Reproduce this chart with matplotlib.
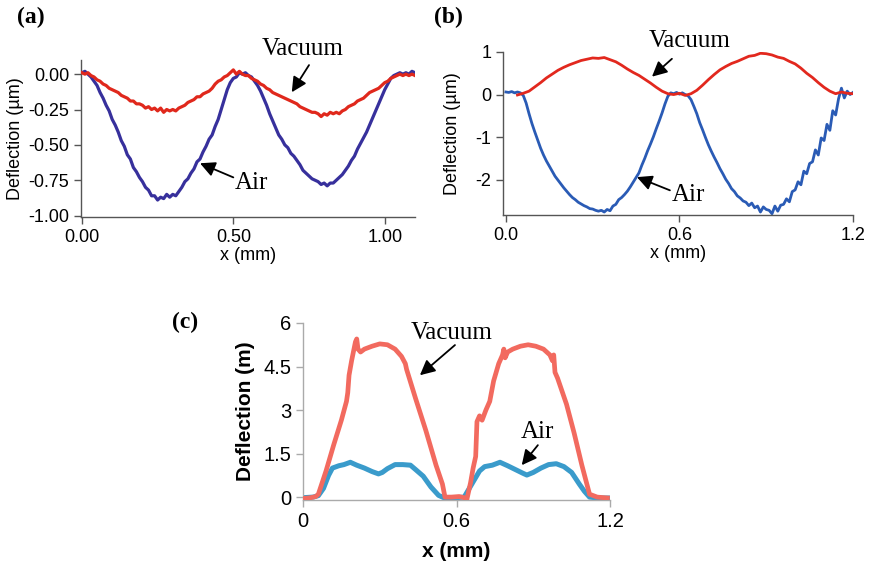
import numpy as np
import matplotlib
matplotlib.use("Agg")
import matplotlib.pyplot as plt

plt.rcParams['font.family'] = ['Liberation Sans', 'DejaVu Sans']
plt.rcParams['axes.unicode_minus'] = False

W, H = 872, 570

# ---- panel (a) data, 0.01 mm spacing ----
xa = np.linspace(0.0, 1.10, 111)
air_a = [0.01, 0.02, 0.00, -0.02, -0.05, -0.08, -0.13, -0.17, -0.22, -0.26,
         -0.32, -0.36, -0.41, -0.47, -0.51, -0.57, -0.60, -0.66, -0.69, -0.73,
         -0.76, -0.80, -0.82, -0.86, -0.86, -0.89, -0.87, -0.88, -0.85, -0.87,
         -0.85, -0.86, -0.83, -0.80, -0.76, -0.74, -0.70, -0.67, -0.62, -0.60,
         -0.55, -0.51, -0.46, -0.43, -0.37, -0.32, -0.25, -0.18, -0.11, -0.06,
         -0.03, -0.02, 0.01, 0.00, 0.01, -0.01, -0.02, -0.05, -0.08, -0.12,
         -0.17, -0.22, -0.28, -0.33, -0.38, -0.43, -0.46, -0.50, -0.52, -0.56,
         -0.58, -0.61, -0.64, -0.68, -0.70, -0.72, -0.74, -0.75, -0.76, -0.78,
         -0.77, -0.79, -0.77, -0.77, -0.75, -0.73, -0.71, -0.68, -0.65, -0.61,
         -0.58, -0.53, -0.49, -0.45, -0.41, -0.36, -0.31, -0.26, -0.21, -0.16,
         -0.11, -0.07, -0.03, -0.01, 0.00, 0.01, 0.00, 0.01, 0.00, 0.02, 0.01]
vac_a = [0.01, 0.00, 0.01, -0.01, -0.02, -0.04, -0.05, -0.07, -0.08, -0.10,
         -0.11, -0.12, -0.13, -0.15, -0.16, -0.17, -0.19, -0.19, -0.21, -0.21,
         -0.22, -0.24, -0.23, -0.25, -0.24, -0.26, -0.24, -0.27, -0.25, -0.26,
         -0.25, -0.26, -0.24, -0.23, -0.22, -0.20, -0.19, -0.18, -0.16, -0.16,
         -0.14, -0.13, -0.12, -0.10, -0.07, -0.05, -0.04, -0.02, -0.01, 0.01,
         0.03, 0.00, 0.02, 0.00, -0.01, -0.01, -0.03, -0.04, -0.05, -0.07,
         -0.08, -0.10, -0.11, -0.13, -0.14, -0.15, -0.16, -0.17, -0.18, -0.19,
         -0.20, -0.21, -0.23, -0.24, -0.25, -0.26, -0.27, -0.27, -0.28, -0.30,
         -0.28, -0.29, -0.27, -0.28, -0.27, -0.28, -0.26, -0.25, -0.23, -0.22,
         -0.21, -0.19, -0.18, -0.17, -0.15, -0.13, -0.12, -0.11, -0.10, -0.08,
         -0.06, -0.05, -0.03, -0.02, -0.01, 0.00, -0.01, 0.00, -0.01, 0.00, -0.01]

# ---- panel (b) data ----
xb_air = np.linspace(0.0, 1.20, 121)
air_b = [0.06, 0.05, 0.07, 0.04, 0.06, 0.04, -0.02, -0.20, -0.45, -0.68,
         -0.88, -1.07, -1.26, -1.42, -1.56, -1.68, -1.80, -1.92, -2.01, -2.10,
         -2.19, -2.27, -2.35, -2.42, -2.47, -2.53, -2.57, -2.61, -2.64, -2.68,
         -2.69, -2.72, -2.74, -2.72, -2.76, -2.70, -2.73, -2.62, -2.58, -2.47,
         -2.42, -2.35, -2.27, -2.17, -2.06, -1.95, -1.84, -1.66, -1.50, -1.32,
         -1.16, -0.99, -0.80, -0.62, -0.43, -0.22, -0.04, 0.04, 0.02, 0.05,
         0.01, 0.04, 0.00, -0.03, -0.12, -0.28, -0.45, -0.66, -0.83, -1.01,
         -1.18, -1.33, -1.47, -1.60, -1.74, -1.86, -1.99, -2.09, -2.21, -2.28,
         -2.38, -2.43, -2.50, -2.53, -2.61, -2.55, -2.66, -2.62, -2.76, -2.64,
         -2.70, -2.72, -2.80, -2.62, -2.74, -2.60, -2.58, -2.45, -2.52, -2.28,
         -2.24, -2.05, -2.12, -1.80, -1.86, -1.62, -1.58, -1.30, -1.42, -1.02,
         -1.08, -0.70, -0.84, -0.38, -0.48, -0.10, 0.15, -0.08, 0.08, 0.00, 0.05]
xb_vac = np.linspace(0.04, 1.20, 59)
vac_b = [-0.01, 0.03, 0.08, 0.18, 0.28, 0.39, 0.48, 0.57, 0.64, 0.70,
         0.75, 0.80, 0.83, 0.86, 0.85, 0.87, 0.82, 0.77, 0.69, 0.60,
         0.52, 0.45, 0.36, 0.27, 0.17, 0.08, 0.02, 0.00, 0.03, -0.02,
         0.02, 0.10, 0.22, 0.35, 0.47, 0.58, 0.66, 0.73, 0.78, 0.84,
         0.90, 0.92, 0.97, 0.96, 0.93, 0.88, 0.85, 0.78, 0.72, 0.62,
         0.50, 0.40, 0.28, 0.17, 0.08, 0.02, 0.06, 0.03, 0.02]

# ---- panel (c) data ----
xc_vac = [0.0, 0.03, 0.05, 0.06, 0.09, 0.12, 0.15, 0.17, 0.175, 0.18, 0.19, 0.205,
          0.21, 0.215, 0.225, 0.24, 0.27, 0.30, 0.33, 0.36, 0.385, 0.40, 0.405,
          0.44, 0.48, 0.52, 0.545, 0.555, 0.58, 0.61, 0.63, 0.64, 0.655, 0.665,
          0.675, 0.68, 0.69, 0.70, 0.715, 0.73, 0.745, 0.765, 0.78, 0.785, 0.79,
          0.80, 0.82, 0.85, 0.88, 0.91, 0.94, 0.965, 0.975, 0.98, 0.985, 0.995,
          1.03, 1.06, 1.09, 1.12, 1.15, 1.19]
vac_c = [-0.05, -0.02, 0.02, 0.10, 0.90, 1.80, 2.65, 3.30, 3.60, 4.20, 4.70, 5.35,
         5.45, 5.10, 5.00, 5.10, 5.20, 5.28, 5.25, 5.10, 4.85, 4.60, 4.40,
         3.40, 2.30, 1.10, 0.45, 0.00, 0.00, 0.02, -0.02, -0.10, 0.50, 1.00,
         1.40, 2.60, 2.80, 2.65, 3.00, 3.30, 4.00, 4.60, 4.90, 5.10, 4.80,
         5.00, 5.10, 5.20, 5.25, 5.20, 5.10, 4.90, 4.70, 4.90, 4.30, 4.10,
         3.20, 2.20, 1.10, 0.10, 0.00, -0.03]
xc_air = [0.0, 0.04, 0.06, 0.08, 0.10, 0.115, 0.14, 0.16, 0.185, 0.21, 0.24, 0.27,
          0.295, 0.31, 0.33, 0.36, 0.39, 0.42, 0.44, 0.47, 0.50, 0.53, 0.55, 0.60,
          0.63, 0.65, 0.67, 0.69, 0.71, 0.74, 0.77, 0.80, 0.83, 0.86, 0.875, 0.90,
          0.93, 0.96, 0.99, 1.02, 1.05, 1.08, 1.10, 1.12, 1.15, 1.19]
air_c = [-0.02, 0.00, 0.05, 0.30, 0.75, 1.00, 1.08, 1.12, 1.20, 1.10, 1.00, 0.88,
         0.80, 0.85, 0.98, 1.12, 1.12, 1.10, 0.95, 0.72, 0.35, 0.06, -0.02, -0.02,
         0.00, 0.30, 0.60, 0.90, 1.05, 1.10, 1.20, 1.08, 0.95, 0.82, 0.76, 0.85,
         1.00, 1.12, 1.15, 1.05, 0.85, 0.45, 0.20, 0.00, -0.03, -0.03]


def px_axes(fig, left, top, right, bottom):
    return fig.add_axes([left / W, 1 - bottom / H, (right - left) / W, (bottom - top) / H])


def style(ax, col, size):
    for s in ['top', 'right']:
        ax.spines[s].set_visible(False)
    for s in ['left', 'bottom']:
        ax.spines[s].set_color(col)
        ax.spines[s].set_linewidth(1.0)
    ax.tick_params(direction='out', length=5, width=1.0, color=col,
                   labelsize=size, labelcolor='black')


def arrow(ax, tip, tail):
    ax.annotate('', xy=tip, xytext=tail,
                arrowprops=dict(arrowstyle='-|>,head_length=0.9,head_width=0.45',
                                color='black', lw=1.3, shrinkA=0, shrinkB=0),
                annotation_clip=False)


serif = ['Liberation Serif', 'DejaVu Serif']

fig = plt.figure(figsize=(W / 100, H / 100), dpi=100)

# (a)
ax = px_axes(fig, 81, 60, 415, 217)
ax.plot(xa, air_a, color='#37309c', lw=2.3, zorder=2)
ax.plot(xa, vac_a, color='#e0281c', lw=2.3, zorder=3)
ax.set_xlim(-0.003, 1.10)
ax.set_ylim(-1.01, 0.10)
ax.set_xticks([0, 0.5, 1.0])
ax.set_xticklabels(['0.00', '0.50', '1.00'])
ax.set_yticks([0, -0.25, -0.5, -0.75, -1.0])
ax.set_yticklabels(['0.00', '-0.25', '-0.50', '-0.75', '-1.00'])
style(ax, '#555555', 13)
ax.set_xlabel('x (mm)', fontsize=13, labelpad=1)
ax.set_ylabel('Deflection (µm)', fontsize=13, labelpad=3)
ax.text(0.73, 0.18, 'Vacuum', family=serif, fontsize=18, ha='center', va='center')
arrow(ax, (0.693, -0.128), (0.75, 0.064))
ax.text(0.56, -0.77, 'Air', family=serif, fontsize=18, ha='center', va='center')
arrow(ax, (0.39, -0.63), (0.50, -0.73))

# (b)
ax = px_axes(fig, 503, 52, 853, 215)
ax.plot(xb_air, air_b, color='#2a5bb5', lw=2.0, zorder=2)
ax.plot(xb_vac, vac_b, color='#e2281e', lw=2.0, zorder=3)
ax.set_xlim(-0.01, 1.20)
ax.set_ylim(-2.83, 1.0)
ax.set_xticks([0, 0.6, 1.2])
ax.set_xticklabels(['0.0', '0.6', '1.2'])
ax.set_yticks([1, 0, -1, -2])
style(ax, '#555555', 13)
ax.set_xlabel('x (mm)', fontsize=13, labelpad=1)
ax.set_ylabel('Deflection (µm)', fontsize=13, labelpad=10)
ax.text(0.637, 1.26, 'Vacuum', family=serif, fontsize=18, ha='center', va='center')
arrow(ax, (0.505, 0.42), (0.574, 0.84))
ax.text(0.63, -2.37, 'Air', family=serif, fontsize=18, ha='center', va='center')
arrow(ax, (0.453, -1.94), (0.567, -2.25))

# (c)
ax = px_axes(fig, 303, 323, 610, 500)
ax.plot(xc_air, air_c, color='#3a9bcb', lw=3.6, zorder=2, solid_joinstyle='round')
ax.plot(xc_vac, vac_c, color='#f26a5f', lw=3.4, zorder=3, solid_joinstyle='round')
ax.set_xlim(0, 1.2)
ax.set_ylim(-0.1, 6)
ax.set_xticks([0, 0.6, 1.2])
ax.set_xticklabels(['0', '0.6', '1.2'])
ax.set_yticks([0, 1.5, 3, 4.5, 6])
ax.set_yticklabels(['0', '1.5', '3', '4.5', '6'])
style(ax, '#aaaaaa', 14.5)
ax.set_xlabel('x (mm)', fontsize=15, fontweight='bold', labelpad=8)
ax.set_ylabel('Deflection (m)', fontsize=15, fontweight='bold', labelpad=6)
ax.text(0.582, 5.66, 'Vacuum', family=serif, fontsize=18, ha='center', va='center')
arrow(ax, (0.457, 4.2), (0.594, 5.24))
ax.text(0.918, 2.24, 'Air', family=serif, fontsize=18, ha='center', va='center')
arrow(ax, (0.855, 1.1), (0.918, 1.79))

# panel letters
for lab, px, py in [('(a)', 31, 17), ('(b)', 448, 17), ('(c)', 185, 322)]:
    fig.text(px / W, 1 - py / H, lab, family=serif, fontweight='bold', fontsize=17,
             ha='center', va='center')

fig.savefig('out.png', dpi=100)
